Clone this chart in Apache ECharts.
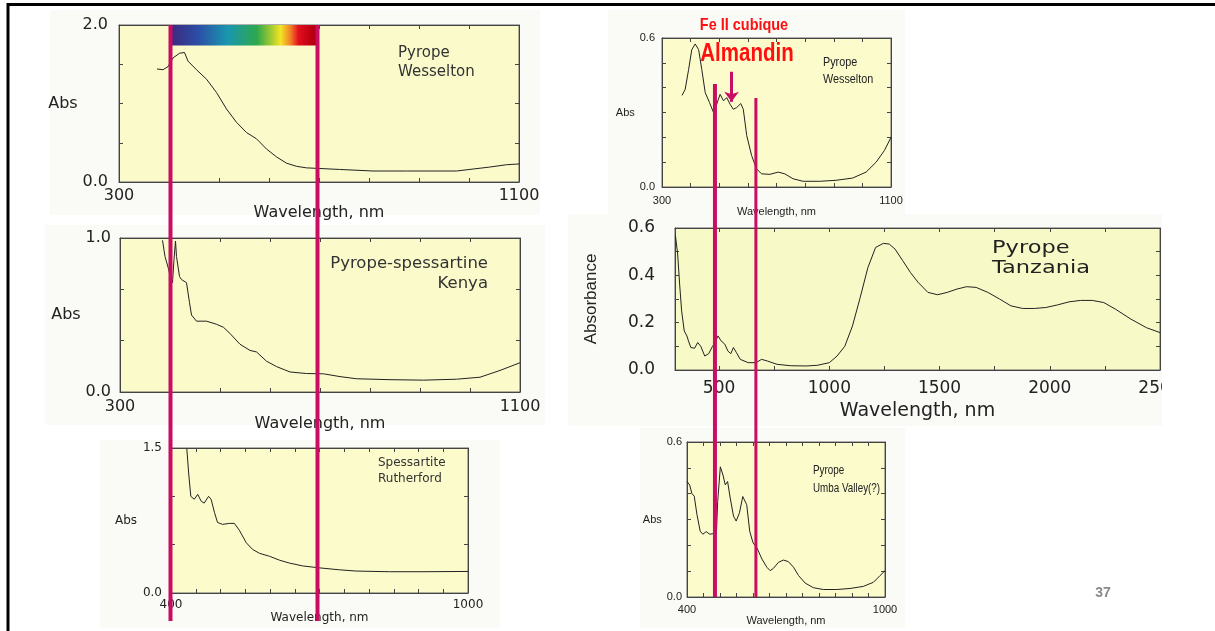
<!DOCTYPE html>
<html>
<head>
<meta charset="utf-8">
<script src="https://cdn.jsdelivr.net/npm/echarts@6/dist/echarts.min.js"></script>
<style>
html,body{margin:0;padding:0;background:#fff;}
#main{width:1215px;height:631px;}
</style>
</head>
<body>
<div id="main"></div>
<script>
// ---- spectra ----
// Pyrope Wesselton (visible, 0-2 Abs)
var wessNm  = [376,388,398,408,421,431,438,455,475,495,515,535,555,575,595,615,635,655,675,708,741,808,875,975,1041,1075,1100];
var wessAbs = [1.44,1.43,1.47,1.58,1.64,1.65,1.54,1.43,1.31,1.14,0.93,0.76,0.63,0.55,0.42,0.32,0.24,0.20,0.18,0.17,0.16,0.14,0.14,0.14,0.19,0.22,0.23];
// Pyrope-spessartine Kenya
var kenyaNm  = [385,390,397,401,405,408,411,413,419,423,433,439,443,453,473,493,507,520,540,560,573,593,613,640,673,707,740,773,840,907,973,1020,1060,1100];
var kenyaAbs = [0.985,0.88,0.80,0.74,0.71,0.86,0.98,0.88,0.75,0.73,0.71,0.58,0.50,0.46,0.46,0.44,0.42,0.38,0.31,0.27,0.26,0.20,0.165,0.13,0.12,0.118,0.10,0.086,0.08,0.077,0.083,0.096,0.14,0.19];
// Spessartite Rutherford
var ruthNm  = [432,436,440,447,454,461,467,476,481,488,494,504,518,528,538,552,565,579,599,619,639,666,700,740,774,841,909,1000];
var ruthAbs = [1.49,1.22,1.00,0.97,1.02,0.95,0.93,1.00,0.97,0.83,0.73,0.71,0.72,0.72,0.65,0.52,0.45,0.41,0.38,0.34,0.31,0.28,0.26,0.24,0.227,0.22,0.22,0.223];
// Pyrope Wesselton (0-0.6 Abs)
var wess2Nm  = [370,381,393,404,416,428,439,451,466,480,491,503,515,526,538,549,561,575,584,596,613,630,648,677,706,729,758,793,851,908,966,1013,1048,1077,1100];
var wess2Abs = [0.369,0.393,0.473,0.553,0.576,0.553,0.473,0.38,0.34,0.30,0.333,0.373,0.347,0.36,0.333,0.313,0.32,0.336,0.313,0.207,0.127,0.073,0.053,0.051,0.06,0.053,0.033,0.023,0.023,0.027,0.036,0.06,0.10,0.147,0.20];
// Pyrope Tanzania
var tanzNm  = [302,312,321,330,342,354,361,372,389,403,417,435,453,470,482,495,509,526,540,553,565,579,596,632,667,693,719,763,825,895,947,1000,1035,1070,1105,1140,1175,1210,1245,1272,1298,1333,1368,1403,1447,1491,1535,1579,1623,1666,1719,1772,1824,1877,1930,1982,2035,2088,2140,2193,2245,2298,2368,2438,2500];
var tanzAbs = [0.568,0.49,0.363,0.25,0.165,0.144,0.123,0.095,0.092,0.116,0.10,0.059,0.069,0.10,0.116,0.144,0.123,0.109,0.08,0.069,0.095,0.073,0.045,0.031,0.031,0.045,0.038,0.024,0.018,0.017,0.02,0.031,0.059,0.10,0.186,0.306,0.433,0.518,0.535,0.532,0.511,0.462,0.412,0.37,0.328,0.318,0.328,0.342,0.352,0.349,0.328,0.30,0.271,0.26,0.26,0.264,0.275,0.288,0.294,0.294,0.285,0.257,0.215,0.179,0.158];
// Pyrope Umba Valley(?)
var umbaNm  = [400,408,415,422,430,440,448,458,469,479,489,493,501,509,516,523,531,541,549,559,569,574,581,590,600,612,627,642,652,662,677,692,707,723,738,758,783,813,854,894,934,965,985,1000];
var umbaAbs = [0.447,0.434,0.40,0.39,0.32,0.255,0.243,0.253,0.243,0.245,0.243,0.37,0.504,0.472,0.434,0.447,0.383,0.313,0.294,0.326,0.389,0.396,0.357,0.255,0.21,0.19,0.147,0.115,0.102,0.111,0.134,0.143,0.137,0.115,0.083,0.054,0.036,0.029,0.029,0.033,0.041,0.057,0.083,0.102];

// ---- tick labels / tick positions ----
var x300Labels = [300,1100];
var x300Ticks  = [300,400,500,600,700,800,900,1000,1100];
var x400Labels = [400,1000];
var x400Ticks  = [400,450,500,550,600,650,700,750,800,850,900,950,1000];
var tanzXLabels = [500,1000,1500,2000,2500];
var tanzXTicks  = [500,750,1000,1250,1500,1750,2000,2250,2500];
var y2Labels = [0,2];      var y2Ticks = [0,0.5,1,1.5,2];
var y1Labels = [0,1];      var y1Ticks = [0,1/3,2/3,1];
var y15Labels = [0,1.5];   var y15Ticks = [0,0.5,1,1.5];
var y06Labels = [0,0.6];   var y06Ticks = [0,0.1,0.2,0.3,0.4,0.5,0.6];
var tanzYLabels = [0,0.2,0.4,0.6];

// annotations (in data units)
var spectrumNm = [405,700];
var spectrumAbs = [2.0,1.74];
var leftLinesNm = [403,697];
var rightLinesNm = [485,628];
var rightLinesTopAbs = [0.415,0.358];
var arrowNm = 543;
var arrowAbs = [0.464,0.343];

function pairs(xs, ys) {
	return xs.map(function(x, i) { return [x, ys[i]]; });
}

var WIDE = "'DejaVu Sans', sans-serif";
var ARIAL = "'Liberation Sans', Arial, sans-serif";
var MAGENTA = '#c90d62';

var panels = [
	{box:{left:119,top:25,width:400,height:157}, xr:[300,1100], xl:x300Labels, xt:x300Ticks, yr:[0,2], yl:y2Labels, yt:y2Ticks,
	 font:WIDE, ls:16, ns:16, xm:6, xg:15, ym:11, yg:32, yName:'Abs', data:pairs(wessNm, wessAbs), bg:'#fafacb'},
	{box:{left:120,top:238,width:400,height:154}, xr:[300,1100], xl:x300Labels, xt:x300Ticks, yr:[0,1], yl:y1Labels, yt:y1Ticks,
	 font:WIDE, ls:16, ns:16, xm:7, xg:12, ym:9, yg:32, yName:'Abs', data:pairs(kenyaNm, kenyaAbs), bg:'#fafacb'},
	{box:{left:171,top:448,width:297,height:145}, xr:[400,1000], xl:x400Labels, xt:x400Ticks, yr:[0,1.5], yl:y15Labels, yt:y15Ticks,
	 font:WIDE, ls:12, ns:12, xm:6, xg:14, ym:9, yg:34, yName:'Abs', data:pairs(ruthNm, ruthAbs), bg:'#fbfbcc'},
	{box:{left:662,top:38,width:229,height:149}, xr:[300,1100], xl:x300Labels, xt:x300Ticks, yr:[0,0.6], yl:y06Labels, yt:y06Ticks,
	 font:ARIAL, ls:11, ns:11, xm:8, xg:16, ym:7, yg:19, yName:'Abs', data:pairs(wess2Nm, wess2Abs), bg:'#fbfbcc'},
	{box:{left:675,top:228,width:485,height:142}, xr:[300,2500], xl:tanzXLabels, xt:tanzXTicks, yr:[0,0.6], yl:tanzYLabels, yt:y06Ticks,
	 font:WIDE, ls:17, ns:19, xm:10, xg:32, ym:20, yg:75, yName:'Absorbance', data:pairs(tanzNm, tanzAbs), bg:'#f7fac6', rot:true},
	{box:{left:687,top:442,width:198,height:155}, xr:[400,1000], xl:x400Labels, xt:x400Ticks, yr:[0,0.6], yl:y06Labels, yt:y06Ticks,
	 font:ARIAL, ls:11, ns:11, xm:7, xg:14, ym:5, yg:17, yName:'Abs', data:pairs(umbaNm, umbaAbs), bg:'#fbfbcc'}
];

var grids = [], xAxes = [], yAxes = [], series = [];
panels.forEach(function(p, i) {
	grids.push({left:p.box.left, top:p.box.top, width:p.box.width, height:p.box.height,
		show:true, backgroundColor:p.bg, borderColor:'#666', borderWidth:1});
	['bottom','top'].forEach(function(pos) {
		var main = pos === 'bottom';
		xAxes.push({
			type:'value', gridIndex:i, position:pos, min:p.xr[0], max:p.xr[1],
			name: main ? 'Wavelength, nm' : '', nameLocation:'middle', nameGap:p.xg,
			nameTextStyle:{fontFamily:p.font, fontSize:p.ns, color:'#222'},
			axisLine:{show:true, onZero:false, lineStyle:{color:'#444', width:1}},
			axisTick:{show:true, inside:true, length:4, customValues:p.xt, lineStyle:{color:'#444'}},
			axisLabel:{show:main, customValues:p.xl, margin:p.xm, fontFamily:p.font, fontSize:p.ls, color:'#222',
				formatter:function(v) { return String(v); }},
			splitLine:{show:false}
		});
	});
	['left','right'].forEach(function(pos) {
		var main = pos === 'left';
		yAxes.push({
			type:'value', gridIndex:i, position:pos, min:p.yr[0], max:p.yr[1],
			name: main ? p.yName : '', nameLocation:'middle', nameGap:p.yg, nameRotate: p.rot ? 90 : 0,
			nameTextStyle:{fontFamily: p.rot ? ARIAL : p.font, fontSize: p.rot ? 17 : p.ns, color:'#222'},
			axisLine:{show:true, onZero:false, lineStyle:{color:'#444', width:1}},
			axisTick:{show:true, inside:true, length:4, customValues:p.yt, lineStyle:{color:'#444'}},
			axisLabel:{show:main, customValues:p.yl, margin:p.ym, fontFamily:p.font, fontSize:p.ls, color:'#222',
				formatter:function(v) { return v.toFixed(1); }},
			splitLine:{show:false}
		});
	});
	series.push({
		type:'line', xAxisIndex:2 * i, yAxisIndex:2 * i, data:p.data,
		showSymbol:false, symbol:'none', silent:true,
		lineStyle:{color:'#222', width:1}
	});
});

// rainbow bar on the first plot
series[0].markArea = {
	silent:true,
	itemStyle:{
		opacity:1,
		color:new echarts.graphic.LinearGradient(0, 0, 1, 0, [
			{offset:0, color:'#3d2a80'},
			{offset:0.18, color:'#2c4ea6'},
			{offset:0.38, color:'#1a96b0'},
			{offset:0.58, color:'#2ea84c'},
			{offset:0.68, color:'#a8cc30'},
			{offset:0.74, color:'#f4e424'},
			{offset:0.81, color:'#f07a28'},
			{offset:0.86, color:'#e2101c'},
			{offset:0.94, color:'#c00014'},
			{offset:1, color:'#a0000e'}
		])
	},
	data:[[{coord:[spectrumNm[0], spectrumAbs[0]]}, {coord:[spectrumNm[1], spectrumAbs[1]]}]]
};

// arrow pointing at the almandin band
series[3].markLine = {
	silent:true, symbol:['none','arrow'], symbolSize:[11,10],
	label:{show:false},
	lineStyle:{color:MAGENTA, width:3, type:'solid'},
	data:[[{coord:[arrowNm, arrowAbs[0]]}, {coord:[arrowNm, arrowAbs[1]]}]]
};

var myChart = echarts.init(document.getElementById('main'));
myChart.setOption({
	animation:false,
	backgroundColor:'#ffffff',
	grid:grids,
	xAxis:xAxes,
	yAxis:yAxes,
	series:series
});

function txt(x, y, text, font, fill, align, lh, sx) {
	return {type:'text', x:x, y:y, z:20, silent:true, scaleX:sx || 1,
		style:{text:text, font:font, fill:fill, align:align || 'left', verticalAlign:'top', lineHeight:lh}};
}

var gfx = [];
// faint backgrounds of the pasted panels
[[50,10,490,205],[45,225,500,200],[100,440,400,188],[608,10,297,208],[568,214,594,212],[640,428,265,200]].forEach(function(r) {
	gfx.push({type:'rect', z:-5, silent:true, shape:{x:r[0], y:r[1], width:r[2], height:r[3]}, style:{fill:'#fafbf6'}});
});
// cropped edge of the Tanzania panel
gfx.push({type:'rect', z:50, silent:true, shape:{x:1162, y:214, width:53, height:212}, style:{fill:'#ffffff'}});
// slide frame
gfx.push({type:'line', z:60, silent:true, shape:{x1:7, y1:4.5, x2:1215, y2:4.5}, style:{stroke:'#000', lineWidth:3}});
gfx.push({type:'line', z:60, silent:true, shape:{x1:8, y1:3, x2:8, y2:631}, style:{stroke:'#000', lineWidth:3}});

// plot labels
gfx.push(txt(398, 44, 'Pyrope\nWesselton', '15px ' + WIDE, '#333', 'left', 19));
gfx.push(txt(488, 254, 'Pyrope-spessartine\nKenya', '15px ' + WIDE, '#333', 'right', 20, 1.1));
gfx.push(txt(378, 455, 'Spessartite\nRutherford', '12px ' + WIDE, '#333', 'left', 16));
gfx.push(txt(823, 54, 'Pyrope\nWesselton', '12px ' + ARIAL, '#222', 'left', 17, 0.9));
gfx.push(txt(992, 238, 'Pyrope\nTanzania', '18px ' + WIDE, '#222', 'left', 20, 1.25));
gfx.push(txt(813, 462, 'Pyrope\nUmba Valley(?)', '12px ' + ARIAL, '#222', 'left', 18, 0.82));
gfx.push(txt(744, 15, 'Fe II cubique', 'bold 17px ' + ARIAL, '#ff1010', 'center', 20, 0.85));
gfx.push(txt(747, 40, 'Almandin', 'bold 25px ' + ARIAL, '#ff1010', 'center', 28, 0.82));
gfx.push(txt(1103, 585, '37', 'bold 14px ' + ARIAL, '#8a8a8a', 'center', 16));

// magenta marker lines, placed through the axes
var leftBottom = myChart.getHeight() - 10;
leftLinesNm.forEach(function(nm) {
	var top = myChart.convertToPixel({gridIndex:0}, [nm, 2.0]);
	gfx.push({type:'line', z:40, silent:true, shape:{x1:top[0], y1:top[1], x2:top[0], y2:leftBottom},
		style:{stroke:MAGENTA, lineWidth:4}});
});
var rightBottom = myChart.convertToPixel({gridIndex:5}, [400, 0])[1];
rightLinesNm.forEach(function(nm, k) {
	var top = myChart.convertToPixel({gridIndex:3}, [nm, rightLinesTopAbs[k]]);
	gfx.push({type:'line', z:40, silent:true, shape:{x1:top[0], y1:top[1], x2:top[0], y2:rightBottom},
		style:{stroke:MAGENTA, lineWidth:k === 0 ? 4 : 3}});
});

myChart.setOption({graphic:gfx});
</script>
</body>
</html>
